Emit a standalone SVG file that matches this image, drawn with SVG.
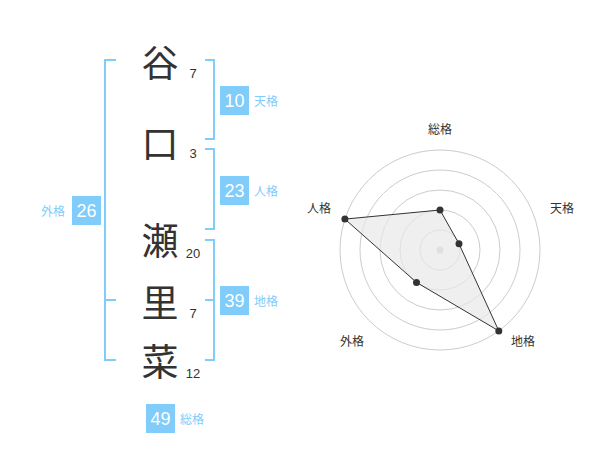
<svg xmlns="http://www.w3.org/2000/svg" width="600" height="470" viewBox="0 0 600 470">
<style>
.kanji{font-family:"Noto Sans CJK JP","Noto Sans CJK SC",sans-serif;font-size:37px;fill:#333;text-anchor:middle}
.strk{font-family:"Liberation Sans",Arial,sans-serif;font-size:13px;fill:#333;text-anchor:middle}
.box{fill:#80ccfa}
.bnum{font-family:"Liberation Sans",Arial,sans-serif;font-size:18px;fill:#fff;text-anchor:middle}
.blab{font-family:"Noto Sans CJK JP",sans-serif;font-size:12px;fill:#80ccfa}
.br{fill:none;stroke:#80ccfa;stroke-width:2}
.ring{fill:none;stroke:#ccc;stroke-width:1}
.rlab{font-family:"Noto Sans CJK JP",sans-serif;font-size:12px;fill:#333;text-anchor:middle}
.pt{fill:#333}
</style>
<rect width="600" height="470" fill="#fff"/>
<g id="connectors">
<polyline class="br" points="116,60 105,60 105,360 116,360"/>
<line class="br" x1="105" y1="300" x2="116" y2="300"/>
<polyline class="br" points="205,60 214,60 214,139 205,139"/>
<polyline class="br" points="205,149 214,149 214,229 205,229"/>
<polyline class="br" points="205,240 214,240 214,360 205,360"/>
<line class="br" x1="205" y1="300" x2="214" y2="300"/>
</g>
<g id="char-1"><text class="kanji" x="160" y="77">谷</text><text class="strk" x="193" y="78">7</text></g>
<g id="char-2"><text class="kanji" x="160" y="158">口</text><text class="strk" x="193" y="158">3</text></g>
<g id="char-3"><text class="kanji" x="160" y="255">瀬</text><text class="strk" x="193" y="258">20</text></g>
<g id="char-4"><text class="kanji" x="160" y="317">里</text><text class="strk" x="193" y="318">7</text></g>
<g id="char-5"><text class="kanji" x="160" y="376">菜</text><text class="strk" x="193" y="378">12</text></g>
<g id="tenkaku"><rect class="box" x="220" y="86" width="29" height="29"/><text class="bnum" x="234.5" y="107">10</text><text class="blab" x="254" y="106">天格</text></g>
<g id="jinkaku"><rect class="box" x="220" y="176" width="29" height="29"/><text class="bnum" x="234.5" y="197">23</text><text class="blab" x="254" y="196">人格</text></g>
<g id="gaikaku"><rect class="box" x="72" y="196" width="29" height="29"/><text class="bnum" x="86.5" y="217">26</text><text class="blab" x="41" y="216">外格</text></g>
<g id="chikaku"><rect class="box" x="220" y="286" width="29" height="29"/><text class="bnum" x="234.5" y="307">39</text><text class="blab" x="254" y="306">地格</text></g>
<g id="soukaku"><rect class="box" x="146" y="404" width="29" height="29"/><text class="bnum" x="160.5" y="425">49</text><text class="blab" x="180" y="424">総格</text></g>
<g id="radar">
<circle class="ring" cx="440" cy="250" r="20"/>
<circle class="ring" cx="440" cy="250" r="40"/>
<circle class="ring" cx="440" cy="250" r="60"/>
<circle class="ring" cx="440" cy="250" r="80"/>
<circle class="ring" cx="440" cy="250" r="100"/>
<circle cx="440" cy="250" r="3.5" fill="#ccc"/>
<polygon points="440,210 459,243.8 498.8,330.9 416.5,282.4 344.9,219.1" fill="#e8e8e8" fill-opacity="0.7" stroke="#333" stroke-width="1"/>
<circle class="pt" cx="440" cy="210" r="3.5"/>
<circle class="pt" cx="459" cy="243.8" r="3.5"/>
<circle class="pt" cx="498.8" cy="330.9" r="3.5"/>
<circle class="pt" cx="416.5" cy="282.4" r="3.5"/>
<circle class="pt" cx="344.9" cy="219.1" r="3.5"/>
<text class="rlab" x="440" y="134">総格</text>
<text class="rlab" x="562" y="213">天格</text>
<text class="rlab" x="523" y="346">地格</text>
<text class="rlab" x="352" y="346">外格</text>
<text class="rlab" x="319" y="213">人格</text>
</g>
</svg>
